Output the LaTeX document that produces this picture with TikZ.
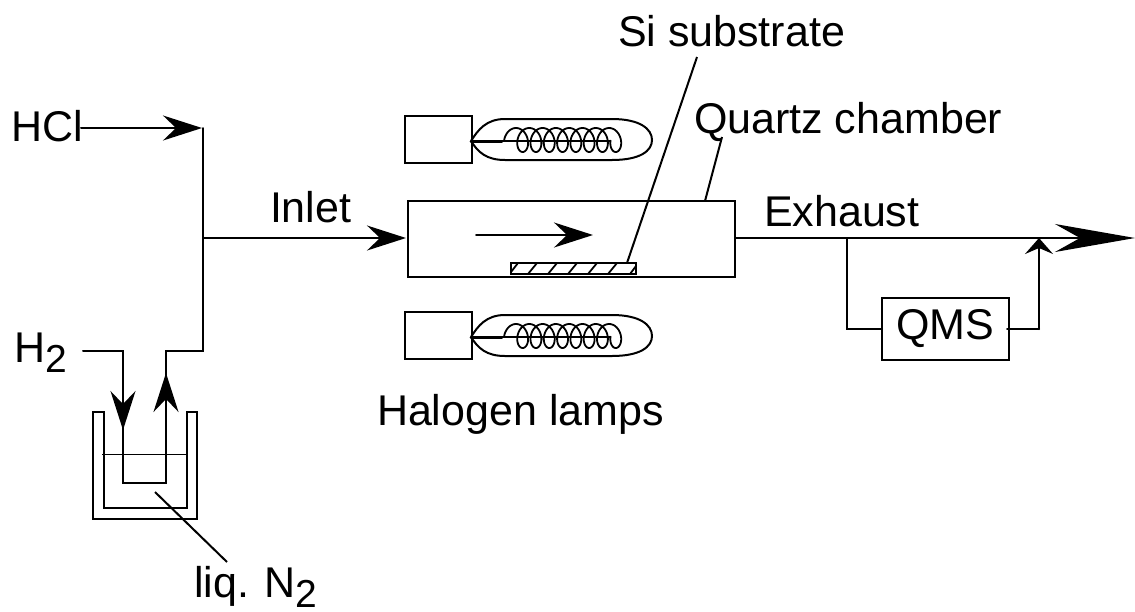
\documentclass[tikz,border=0pt]{standalone}
\usepackage{fontspec}
\setmainfont{Liberation Sans}
\usetikzlibrary{arrows.meta}
\tikzset{
  x=1pt,y=-1pt,
  pipe/.style={line width=2pt,line cap=round,line join=miter},
  boxn/.style={draw,line width=2pt,inner sep=0pt,outer sep=0pt,fill=none},
  label/.style={anchor=base west,inner sep=0pt,outer sep=0pt,font=\fontsize{43}{45}\selectfont},
  medhead/.style={-{Stealth[length=39pt,width=25pt,inset=13pt]}},
  bighead/.style={-{Stealth[length=80pt,width=28pt,inset=25pt]}},
  smallhead/.style={-{Stealth[length=16pt,width=28pt,inset=6pt]}}
}
\newcommand{\subtwo}{\smash{\raisebox{-10pt}{\fontsize{39}{41}\selectfont 2}}}
\begin{document}
\begin{tikzpicture}
\useasboundingbox (0,0) rectangle (1135,611);
% lamps
\foreach \i/\dy in {1/0,2/196}{
  \begin{scope}[yshift=-\dy pt]
    \node[boxn,minimum width=67pt,minimum height=47pt] (lampbox\i) at (438.5,139) {};
    \coordinate (lampbase\i) at (471,141);
    \coordinate (lampstem\i) at (502,141);
    \coordinate (lampend\i) at (610,141);
    \draw[line width=2pt] (lampbase\i) .. controls (478,130) and (486,119) .. (505,119)
      -- (612,119) .. controls (640,119) and (652,129) .. (652,140)
      .. controls (652,151) and (640,160) .. (612,160)
      -- (505,160) .. controls (486,160) and (478,152) .. (lampbase\i);
    \draw[line width=3pt,line cap=round] (lampbase\i) -- (lampstem\i);
    \draw[line width=1.4pt] (lampstem\i) -- (lampend\i);
    \draw[line width=1.8pt,line join=round] plot[domain=-1.5708:48.695,samples=420,variable=\t]
      ({516+13.3*\t/6.28319+8.5*sin(\t r)},{140-12*cos(\t r)});
  \end{scope}
}
% chamber
\node[boxn,minimum width=327pt,minimum height=76pt] (chamber) at (571.5,239) {};
\node[boxn,minimum width=125pt,minimum height=11pt] (substrate) at (573.5,268.5) {};
\foreach \a in {528,548,568,588,608}{
  \draw[line width=1.8pt] (\a,274) -- (\a+9,263);
}
\draw[line width=1.8pt] (511,272) -- (518,263);
\draw[line width=1.8pt] (630,274) -- (636,266);
\coordinate (flowa) at (476,235);
\coordinate (flowb) at (593,235);
\draw[pipe,medhead] (flowa) -- (flowb);
% leaders
\node[label] (si) at (618,46) {Si substrate};
\node[label] (quartz) at (694,133) {Quartz chamber};
\coordinate (sia) at (697,57);
\coordinate (sib) at (627,263);
\draw[line width=2pt] (sia) -- (sib);
\coordinate (qa) at (722,137);
\coordinate (qb) at (705,201);
\draw[line width=2pt] (qa) -- (qb);
% inlet piping
\node[label] (hcl) at (11,141) {HCl};
\node[label] (inlet) at (270,222) {Inlet};
\coordinate (hcla) at (81,128);
\coordinate (jtop) at (202,128);
\coordinate (jmid) at (203,238);
\coordinate (jbot) at (203,351);
\draw[pipe,medhead] (hcla) -- (jtop);
\draw[pipe] (jtop -| jbot) -- (jbot) -- (166,351) -- (166,483) coordinate (trapr) -- (123,483) coordinate (trapl) -- (123,351) coordinate (h2c) -- (83,351) coordinate (h2a);
\draw[pipe,medhead] (jmid) -- ([xshift=-2pt]chamber.west |- jmid);
\coordinate (downa) at (123,380);
\coordinate (downb) at (123,430);
\draw[pipe,medhead] (downa) -- (downb);
\coordinate (upa) at (166,425);
\coordinate (upb) at (166,373);
\draw[pipe,medhead] (upa) -- (upb);
% dewar
\draw[pipe] (93,412) coordinate (outa) -- (104,412) -- (104,508) -- (187,508) -- (187,412) -- (197,412) -- (197,519) -- (93,519) -- cycle;
\coordinate (liqa) at (102,454);
\coordinate (liqb) at (186,454);
\draw[line width=1pt] (liqa) -- (liqb);
\coordinate (lna) at (155,492);
\coordinate (lnb) at (227,562);
\draw[line width=2pt] (lna) -- (lnb);
\node[label] (h2) at (14,362) {H\subtwo};
\node[label] (ln2) at (194,597) {liq. N\subtwo};
\node[label] (halogen) at (377,425) {Halogen lamps};
% exhaust
\node[label] (exhaust) at (764,226) {Exhaust};
\node[boxn,minimum width=127pt,minimum height=62pt,font=\fontsize{43}{45}\selectfont] (qms) at (945.5,329) {\raisebox{-5pt}{QMS}};
\coordinate (exa) at (735,238);
\coordinate (exb) at (1135,238);
\coordinate (bra) at (847,238);
\coordinate (brb) at (847,329);
\coordinate (ret) at (1039,329);
\coordinate (rett) at (1039,238);
\draw[pipe,bighead] (chamber.east |- exa) -- (exb);
\draw[pipe] (bra) -- (brb) -- (qms.west |- brb);
\draw[pipe] (qms.east |- ret) ++(-2,0) -- (ret);
\draw[pipe,smallhead] (ret) -- (rett);
\end{tikzpicture}
\end{document}
